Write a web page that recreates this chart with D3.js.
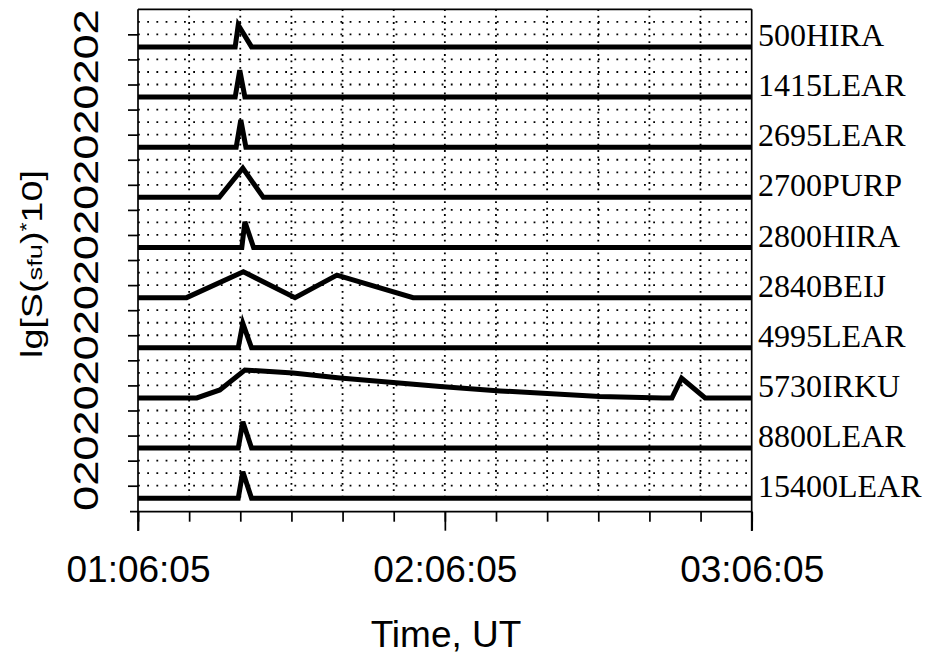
<!DOCTYPE html>
<html>
<head>
<meta charset="utf-8">
<script src="https://cdn.jsdelivr.net/npm/d3@7"></script>
<style>
  body { margin: 0; background: #fff; }
  svg { display: block; }
</style>
</head>
<body>
<svg id="chart" width="938" height="656"></svg>
<script>
// time window and station names (top to bottom)
const startTime = "01:06:05",
  endTime = "03:06:05";
const stations = ["500HIRA", "1415LEAR", "2695LEAR", "2700PURP", "2800HIRA",
                  "2840BEIJ", "4995LEAR", "5730IRKU", "8800LEAR", "15400LEAR"];

// [minutes after 01:06:05, lg value]
const hira500 = [[0, 0], [19.0, 0], [19.6, 1.75], [22.2, 0], [120, 0]];
const lear1415 = [[0, 0], [19.0, 0], [19.9, 2.15], [20.9, 0], [120, 0]];
const lear2695 = [[0, 0], [19.2, 0], [20.1, 2.17], [21.1, 0], [120, 0]];
const purp2700 = [[0, 0], [15.9, 0], [20.5, 2.32], [24.5, 0], [120, 0]];
const hira2800 = [[0, 0], [20.3, 0], [20.9, 2.06], [22.6, 0], [120, 0]];
const beij2840 = [[0, 0], [9.5, 0], [20.6, 2.06], [30.7, 0], [38.9, 1.8], [53.8, 0], [120, 0]];
const lear4995 = [[0, 0], [19.6, 0], [20.5, 1.95], [22.2, 0], [120, 0]];
const irku5730 = [[0, 0], [11.5, 0], [16.0, 0.64], [20.9, 2.23], [30.3, 1.99], [39.5, 1.59],
                  [59.1, 0.91], [70.8, 0.56], [90.3, 0.12], [102.6, 0], [104.4, 0],
                  [106.3, 1.57], [110.9, 0], [120, 0]];
const lear8800 = [[0, 0], [19.6, 0], [20.5, 2.1], [22.2, 0], [120, 0]];
const lear15400 = [[0, 0], [19.6, 0], [20.5, 2.12], [22.2, 0], [120, 0]];
const profiles = [hira500, lear1415, lear2695, purp2700, hira2800,
                  beij2840, lear4995, irku5730, lear8800, lear15400];

// ticks
const tickMinutes = [0, 10, 20, 30, 40, 50, 60, 70, 80, 90, 100, 110, 120];
const labelMinutes = [0, 60, 120];
const yMajor = [0, 2],
  yMinor = [1, 3],
  gridLevels = [1, 2, 3];

let plotLeft = 138, plotRight = 751.7,
  firstBase = 46.9, lastBase = 498.25,
  step = (lastBase - firstBase) / (stations.length - 1),
  unit = step / 4,
  plotTop = firstBase - 3 * unit,
  axisY = 511.7;

const parse = d3.timeParse("%H:%M:%S");
const t0 = parse(startTime), t1 = parse(endTime);
const toTime = m => new Date(+t0 + m * 60000);

const x = d3.scaleTime().domain([t0, t1]).range([plotLeft, plotRight]);
const base = d3.scalePoint().domain(stations).range([firstBase, lastBase]);
const yOf = s => d3.scaleLinear().domain([0, 4]).range([base(s), base(s) - step]);

const svg = d3.select("#chart");
const grid = svg.append("g").attr("stroke", "#000").attr("stroke-width", 1.8);

// vertical dotted grid
grid.selectAll("line.v")
  .data(tickMinutes.slice(1, -1)).join("line")
  .attr("class", "v")
  .attr("x1", m => x(toTime(m))).attr("x2", m => x(toTime(m)))
  .attr("y1", plotTop).attr("y2", lastBase)
  .attr("stroke-dasharray", "1.8,4.6");

// horizontal dotted grid, per panel
stations.forEach((s, i) => {
  let y = yOf(s);
  let levels = i == 0 ? [1, 2] : gridLevels;
  grid.selectAll(null)
    .data(levels).join("line")
    .attr("x1", plotLeft).attr("x2", plotRight)
    .attr("y1", d => y(d)).attr("y2", d => y(d))
    .attr("stroke-dasharray", "1.8,7.4");
});

// frame
const frame = svg.append("g").attr("stroke", "#000").attr("stroke-width", 1.7);
frame.append("line").attr("x1", plotLeft).attr("x2", plotRight).attr("y1", plotTop).attr("y2", plotTop);
frame.append("line").attr("x1", plotLeft).attr("x2", plotLeft).attr("y1", plotTop).attr("y2", 531);
frame.append("line").attr("x1", plotRight).attr("x2", plotRight).attr("y1", plotTop).attr("y2", 531);
frame.append("line").attr("x1", 130).attr("x2", plotRight).attr("y1", axisY).attr("y2", axisY);

// bottom axis
svg.append("g")
  .attr("transform", `translate(0, ${axisY})`)
  .call(d3.axisBottom(x).tickValues(tickMinutes.map(toTime)).tickSize(10).tickSizeOuter(0).tickFormat(""))
  .call(g => g.select(".domain").remove());
svg.append("g")
  .attr("transform", `translate(0, ${axisY})`)
  .call(d3.axisBottom(x).tickValues(labelMinutes.map(toTime)).tickSize(19).tickSizeOuter(0)
        .tickPadding(25).tickFormat(d3.timeFormat("%H:%M:%S")))
  .call(g => g.select(".domain").remove())
  .call(g => g.selectAll("text").attr("font-family", "Liberation Sans, Arial").attr("font-size", 37).attr("fill", "#000"));
svg.selectAll(".tick line").attr("stroke", "#000").attr("stroke-width", 1.7);

// left axes per panel
stations.forEach((s, i) => {
  let y = yOf(s);
  let minor = i == 0 ? [1] : yMinor;
  let g = svg.append("g").attr("transform", `translate(${plotLeft}, 0)`);
  g.call(d3.axisLeft(y).tickValues(yMajor).tickSize(20).tickSizeOuter(0).tickFormat(""));
  g.call(d3.axisLeft(y).tickValues(minor).tickSize(10).tickSizeOuter(0).tickFormat(""));
  g.selectAll(".domain").remove();
  g.selectAll(".tick line").attr("stroke", "#000").attr("stroke-width", 1.7);
  svg.selectAll(null)
    .data(yMajor).join("text")
    .text(d => d)
    .attr("transform", d => `translate(98, ${y(d)}) rotate(-90) scale(1.3, 1)`)
    .attr("text-anchor", "middle")
    .attr("font-family", "Liberation Sans, Arial")
    .attr("font-size", 35);
});

// station labels
svg.selectAll("text.station")
  .data(stations).join("text")
  .attr("class", "station")
  .text(d => d)
  .attr("x", 758)
  .attr("y", d => base(d) - 1)
  .attr("font-family", "Liberation Serif, Times New Roman")
  .attr("font-size", 32);

// data lines
const line = (s) => d3.line()
  .x(d => x(toTime(d[0])))
  .y(d => yOf(s)(d[1]));
svg.selectAll("path.flux")
  .data(stations).join("path")
  .attr("class", "flux")
  .attr("d", (s, i) => line(s)(profiles[i]))
  .attr("fill", "none")
  .attr("stroke", "#000")
  .attr("stroke-width", 5)
  .attr("stroke-linejoin", "miter");

// titles
svg.append("text")
  .attr("x", 446).attr("y", 647)
  .attr("text-anchor", "middle")
  .attr("font-family", "Liberation Sans, Arial")
  .attr("font-size", 37)
  .text("Time, UT");

let yt = svg.append("text")
  .attr("transform", "translate(41.5, 264) rotate(-90) scale(1.3, 1)")
  .attr("text-anchor", "middle")
  .attr("font-family", "Liberation Sans, Arial")
  .attr("font-size", 29);
yt.append("tspan").text("lg[S(");
yt.append("tspan").attr("font-size", 21).text("sfu");
yt.append("tspan").text(")");
yt.append("tspan").attr("font-size", 18).attr("dy", -9).text("*");
yt.append("tspan").attr("dy", 9).text("10]");
</script>
</body>
</html>
